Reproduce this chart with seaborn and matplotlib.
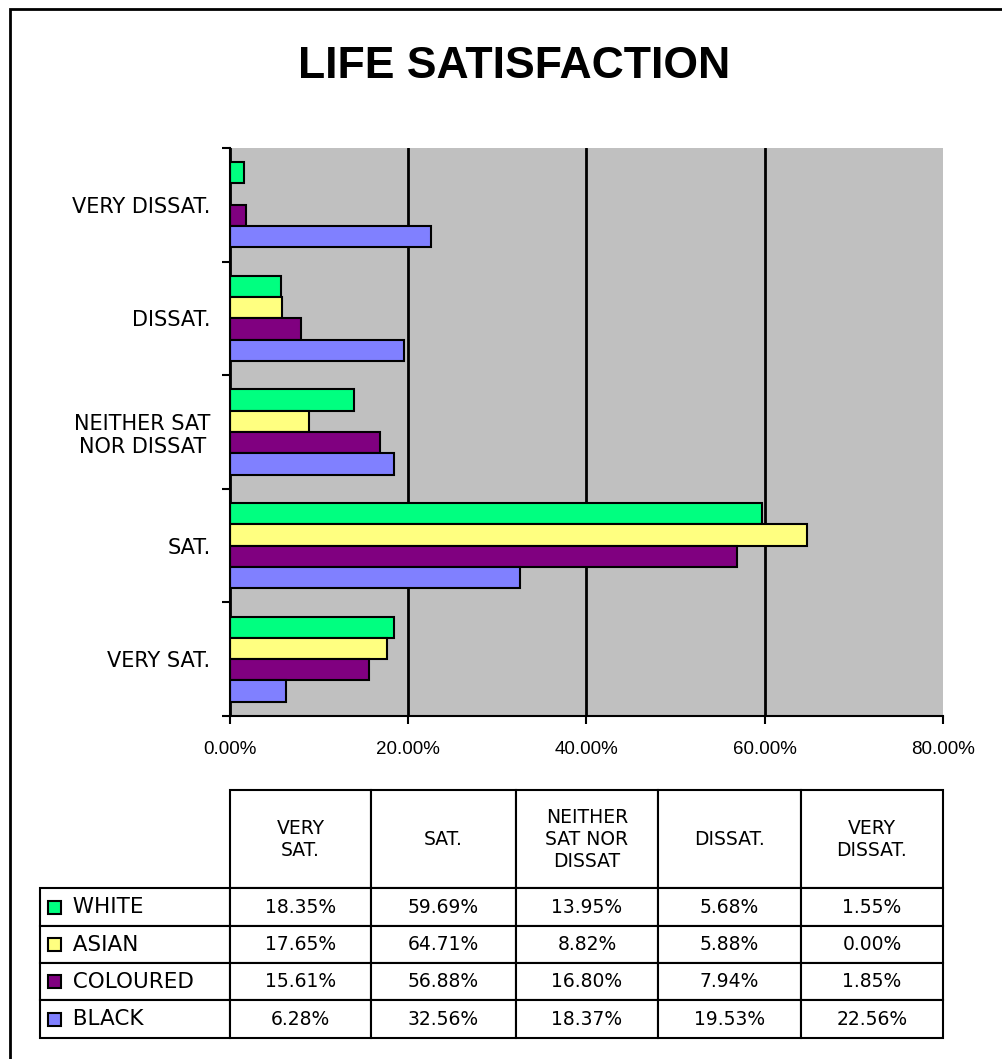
import pandas as pd
import matplotlib.pyplot as plt
import seaborn as sns
from matplotlib.patches import Rectangle

# table order (left to right in the data table)
categories = ["VERY SAT.", "SAT.", "NEITHER SAT NOR DISSAT", "DISSAT.", "VERY DISSAT."]
chart_labels = ["VERY SAT.", "SAT.", "NEITHER SAT\nNOR DISSAT", "DISSAT.", "VERY DISSAT."]
table_headers = ["VERY\nSAT.", "SAT.", "NEITHER\nSAT NOR\nDISSAT", "DISSAT.", "VERY\nDISSAT."]

groups = ["WHITE", "ASIAN", "COLOURED", "BLACK"]
white = [18.35, 59.69, 13.95, 5.68, 1.55]
asian = [17.65, 64.71, 8.82, 5.88, 0.00]
coloured = [15.61, 56.88, 16.80, 7.94, 1.85]
black = [6.28, 32.56, 18.37, 19.53, 22.56]
colors = ["#00FF80", "#FFFF80", "#800080", "#8080FF"]

xticks = [0, 20, 40, 60, 80]
xtick_labels = ["0.00%", "20.00%", "40.00%", "60.00%", "80.00%"]

sns.set_style("white")
plt.rcParams["font.family"] = ["DejaVu Sans"]
plt.rcParams["text.color"] = "black"
plt.rcParams["xtick.color"] = "black"
plt.rcParams["ytick.color"] = "black"
plt.rcParams["xtick.labelcolor"] = "black"
plt.rcParams["ytick.labelcolor"] = "black"

series = dict(zip(groups, [white, asian, coloured, black]))
df = pd.DataFrame([
    {"category": c, "group": g, "value": v}
    for g in groups for c, v in zip(categories, series[g])
])

fig = plt.figure(figsize=(10.02, 10.59), dpi=100)

# outer frame (runs off the right and bottom edge like the source image)
fig.patches.append(Rectangle((0.010, -0.1), 1.2, 1.0915, transform=fig.transFigure,
                             fill=False, ec="black", lw=2))

fig.text(0.513, 1 - 66 / 1059, "LIFE SATISFACTION", ha="center", va="center",
         fontsize=32, fontweight="bold", color="black",
         family=["Liberation Sans", "DejaVu Sans"])

# --- bar chart ---
ax = fig.add_axes([0.2295, 0.3239, 0.7116, 0.5364])
chart_order = categories[::-1]
sns.barplot(data=df, y="category", x="value", hue="group", order=chart_order,
            hue_order=groups, palette=colors, orient="h", width=0.75,
            saturation=1, edgecolor="black", linewidth=1.5, errorbar=None,
            legend=False, ax=ax)
ax.set_facecolor("#C0C0C0")
ax.set_xlim(0, 80)
ax.set_xticks(xticks)
ax.set_xticklabels(xtick_labels, fontsize=13.5, family=["Liberation Sans"])
ax.set_yticks(range(len(chart_order)))
ax.set_yticklabels(chart_labels[::-1], fontsize=15, multialignment="center")
ax.set_yticks([i - 0.5 for i in range(len(chart_order) + 1)], minor=True)
ax.tick_params(axis="y", which="major", length=0, pad=14)
ax.tick_params(axis="y", which="minor", length=6, width=1.5, direction="out", left=True)
ax.tick_params(axis="x", length=6, width=1.5, direction="out", bottom=True, pad=12)
ax.set_xlabel("")
ax.set_ylabel("")
ax.xaxis.grid(True, color="black", linewidth=2)
ax.set_axisbelow(True)
ax.get_xgridlines()[-1].set_visible(False)
for side in ["top", "right"]:
    ax.spines[side].set_visible(False)
for side in ["left", "bottom"]:
    ax.spines[side].set_color("black")
    ax.spines[side].set_linewidth(1.5)

# --- data table ---
tax = fig.add_axes([0.0399, 0.0198, 0.9012, 0.2342])
tax.axis("off")
rows = [[""] + table_headers]
for g in groups:
    rows.append(["  " + g] + [f"{v:.2f}%" for v in series[g]])
table = tax.table(cellText=rows, cellLoc="center", bbox=[0, 0, 1, 1])
table.auto_set_font_size(False)
table.set_fontsize(13.5)
col_w = [190, 141, 145, 142, 143, 142]
row_h = [98, 38, 37, 37, 38]
for (r, c), cell in table.get_celld().items():
    cell.set_width(col_w[c])
    cell.set_height(row_h[r])
    cell.set_linewidth(1.5)
    cell.set_edgecolor("black")
    cell.get_text().set_color("black")
    if r > 0 and c == 0:
        cell.set_text_props(ha="left", fontsize=15.5)
        cell._loc = "left"
table[0, 0].visible_edges = ""

fig.canvas.draw()
tw, th = 903, 248
for i, col in enumerate(colors):
    cell = table[i + 1, 0]
    x0, y0, h = cell.get_x(), cell.get_y(), cell.get_height()
    tax.add_patch(Rectangle((x0 + 8 / tw, y0 + h / 2 - 6.5 / th), 13 / tw, 13 / th,
                            transform=tax.transAxes, fc=col, ec="black", lw=1.5,
                            clip_on=False, zorder=5))

fig.savefig("out.png", dpi=100)
